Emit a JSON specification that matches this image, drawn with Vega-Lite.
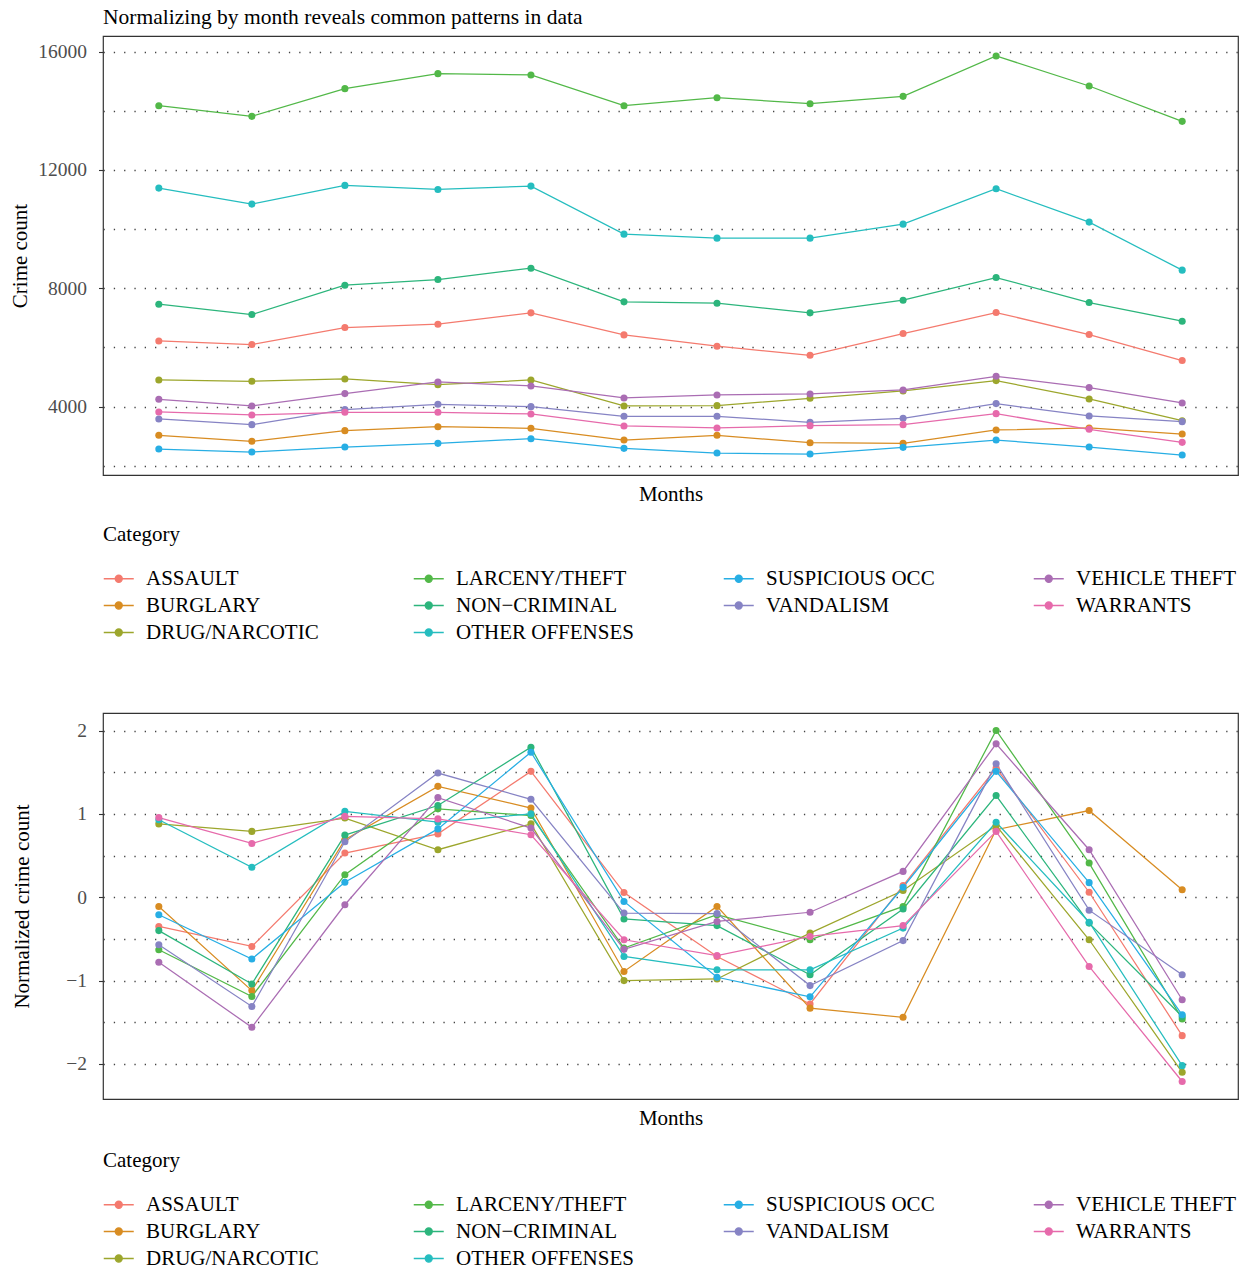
{
  "$schema": "https://vega.github.io/schema/vega-lite/v6.json",
  "background": "white",
  "padding": {"left": 8, "top": 5, "right": 5, "bottom": 5},
  "config": {
    "font": "Liberation Serif",
    "view": {"stroke": "#333333", "strokeWidth": 1.2},
    "title": {"font": "Liberation Serif"},
    "axis": {
      "labelFont": "Liberation Serif",
      "titleFont": "Liberation Serif",
      "labelFontSize": 19.5,
      "labelColor": "#4d4d4d",
      "titleFontSize": 21,
      "titleFontWeight": "normal",
      "titleColor": "#000000",
      "domain": false,
      "tickColor": "#333333",
      "tickWidth": 1.1,
      "gridColor": "#444444",
      "gridDash": [1.3, 9],
      "gridWidth": 1.3
    },
    "legend": {
      "labelFont": "Liberation Serif",
      "titleFont": "Liberation Serif",
      "labelFontSize": 21,
      "titleFontSize": 21,
      "titleFontWeight": "normal",
      "labelColor": "#000000",
      "titleColor": "#000000",
      "labelLimit": 400
    }
  },
  "datasets": {
    "counts": [
      {"month": 1, "category": "ASSAULT", "count": 6220}, {"month": 2, "category": "ASSAULT", "count": 6096}, {"month": 3, "category": "ASSAULT", "count": 6671}, {"month": 4, "category": "ASSAULT", "count": 6784}, {"month": 5, "category": "ASSAULT", "count": 7168}, {"month": 6, "category": "ASSAULT", "count": 6423}, {"month": 7, "category": "ASSAULT", "count": 6040}, {"month": 8, "category": "ASSAULT", "count": 5735}, {"month": 9, "category": "ASSAULT", "count": 6468}, {"month": 10, "category": "ASSAULT", "count": 7179}, {"month": 11, "category": "ASSAULT", "count": 6435}, {"month": 12, "category": "ASSAULT", "count": 5555},
      {"month": 1, "category": "BURGLARY", "count": 3028}, {"month": 2, "category": "BURGLARY", "count": 2825}, {"month": 3, "category": "BURGLARY", "count": 3186}, {"month": 4, "category": "BURGLARY", "count": 3321}, {"month": 5, "category": "BURGLARY", "count": 3265}, {"month": 6, "category": "BURGLARY", "count": 2870}, {"month": 7, "category": "BURGLARY", "count": 3028}, {"month": 8, "category": "BURGLARY", "count": 2780}, {"month": 9, "category": "BURGLARY", "count": 2758}, {"month": 10, "category": "BURGLARY", "count": 3209}, {"month": 11, "category": "BURGLARY", "count": 3276}, {"month": 12, "category": "BURGLARY", "count": 3073},
      {"month": 1, "category": "DRUG/NARCOTIC", "count": 4900}, {"month": 2, "category": "DRUG/NARCOTIC", "count": 4855}, {"month": 3, "category": "DRUG/NARCOTIC", "count": 4934}, {"month": 4, "category": "DRUG/NARCOTIC", "count": 4742}, {"month": 5, "category": "DRUG/NARCOTIC", "count": 4900}, {"month": 6, "category": "DRUG/NARCOTIC", "count": 4021}, {"month": 7, "category": "DRUG/NARCOTIC", "count": 4032}, {"month": 8, "category": "DRUG/NARCOTIC", "count": 4280}, {"month": 9, "category": "DRUG/NARCOTIC", "count": 4528}, {"month": 10, "category": "DRUG/NARCOTIC", "count": 4878}, {"month": 11, "category": "DRUG/NARCOTIC", "count": 4258}, {"month": 12, "category": "DRUG/NARCOTIC", "count": 3524},
      {"month": 1, "category": "LARCENY/THEFT", "count": 14173}, {"month": 2, "category": "LARCENY/THEFT", "count": 13812}, {"month": 3, "category": "LARCENY/THEFT", "count": 14748}, {"month": 4, "category": "LARCENY/THEFT", "count": 15256}, {"month": 5, "category": "LARCENY/THEFT", "count": 15210}, {"month": 6, "category": "LARCENY/THEFT", "count": 14173}, {"month": 7, "category": "LARCENY/THEFT", "count": 14443}, {"month": 8, "category": "LARCENY/THEFT", "count": 14240}, {"month": 9, "category": "LARCENY/THEFT", "count": 14488}, {"month": 10, "category": "LARCENY/THEFT", "count": 15853}, {"month": 11, "category": "LARCENY/THEFT", "count": 14838}, {"month": 12, "category": "LARCENY/THEFT", "count": 13642},
      {"month": 1, "category": "NON-CRIMINAL", "count": 7461}, {"month": 2, "category": "NON-CRIMINAL", "count": 7111}, {"month": 3, "category": "NON-CRIMINAL", "count": 8104}, {"month": 4, "category": "NON-CRIMINAL", "count": 8296}, {"month": 5, "category": "NON-CRIMINAL", "count": 8679}, {"month": 6, "category": "NON-CRIMINAL", "count": 7540}, {"month": 7, "category": "NON-CRIMINAL", "count": 7495}, {"month": 8, "category": "NON-CRIMINAL", "count": 7168}, {"month": 9, "category": "NON-CRIMINAL", "count": 7596}, {"month": 10, "category": "NON-CRIMINAL", "count": 8363}, {"month": 11, "category": "NON-CRIMINAL", "count": 7517}, {"month": 12, "category": "NON-CRIMINAL", "count": 6886},
      {"month": 1, "category": "OTHER OFFENSES", "count": 11386}, {"month": 2, "category": "OTHER OFFENSES", "count": 10845}, {"month": 3, "category": "OTHER OFFENSES", "count": 11477}, {"month": 4, "category": "OTHER OFFENSES", "count": 11341}, {"month": 5, "category": "OTHER OFFENSES", "count": 11454}, {"month": 6, "category": "OTHER OFFENSES", "count": 9830}, {"month": 7, "category": "OTHER OFFENSES", "count": 9694}, {"month": 8, "category": "OTHER OFFENSES", "count": 9694}, {"month": 9, "category": "OTHER OFFENSES", "count": 10168}, {"month": 10, "category": "OTHER OFFENSES", "count": 11364}, {"month": 11, "category": "OTHER OFFENSES", "count": 10236}, {"month": 12, "category": "OTHER OFFENSES", "count": 8612},
      {"month": 1, "category": "SUSPICIOUS OCC", "count": 2565}, {"month": 2, "category": "SUSPICIOUS OCC", "count": 2464}, {"month": 3, "category": "SUSPICIOUS OCC", "count": 2633}, {"month": 4, "category": "SUSPICIOUS OCC", "count": 2757}, {"month": 5, "category": "SUSPICIOUS OCC", "count": 2915}, {"month": 6, "category": "SUSPICIOUS OCC", "count": 2588}, {"month": 7, "category": "SUSPICIOUS OCC", "count": 2430}, {"month": 8, "category": "SUSPICIOUS OCC", "count": 2396}, {"month": 9, "category": "SUSPICIOUS OCC", "count": 2622}, {"month": 10, "category": "SUSPICIOUS OCC", "count": 2870}, {"month": 11, "category": "SUSPICIOUS OCC", "count": 2633}, {"month": 12, "category": "SUSPICIOUS OCC", "count": 2362},
      {"month": 1, "category": "VANDALISM", "count": 3581}, {"month": 2, "category": "VANDALISM", "count": 3389}, {"month": 3, "category": "VANDALISM", "count": 3897}, {"month": 4, "category": "VANDALISM", "count": 4077}, {"month": 5, "category": "VANDALISM", "count": 3998}, {"month": 6, "category": "VANDALISM", "count": 3671}, {"month": 7, "category": "VANDALISM", "count": 3671}, {"month": 8, "category": "VANDALISM", "count": 3468}, {"month": 9, "category": "VANDALISM", "count": 3603}, {"month": 10, "category": "VANDALISM", "count": 4100}, {"month": 11, "category": "VANDALISM", "count": 3682}, {"month": 12, "category": "VANDALISM", "count": 3491},
      {"month": 1, "category": "VEHICLE THEFT", "count": 4246}, {"month": 2, "category": "VEHICLE THEFT", "count": 4021}, {"month": 3, "category": "VEHICLE THEFT", "count": 4438}, {"month": 4, "category": "VEHICLE THEFT", "count": 4833}, {"month": 5, "category": "VEHICLE THEFT", "count": 4698}, {"month": 6, "category": "VEHICLE THEFT", "count": 4291}, {"month": 7, "category": "VEHICLE THEFT", "count": 4393}, {"month": 8, "category": "VEHICLE THEFT", "count": 4427}, {"month": 9, "category": "VEHICLE THEFT", "count": 4562}, {"month": 10, "category": "VEHICLE THEFT", "count": 5025}, {"month": 11, "category": "VEHICLE THEFT", "count": 4641}, {"month": 12, "category": "VEHICLE THEFT", "count": 4122},
      {"month": 1, "category": "WARRANTS", "count": 3818}, {"month": 2, "category": "WARRANTS", "count": 3716}, {"month": 3, "category": "WARRANTS", "count": 3806}, {"month": 4, "category": "WARRANTS", "count": 3806}, {"month": 5, "category": "WARRANTS", "count": 3750}, {"month": 6, "category": "WARRANTS", "count": 3344}, {"month": 7, "category": "WARRANTS", "count": 3276}, {"month": 8, "category": "WARRANTS", "count": 3355}, {"month": 9, "category": "WARRANTS", "count": 3389}, {"month": 10, "category": "WARRANTS", "count": 3761}, {"month": 11, "category": "WARRANTS", "count": 3231}, {"month": 12, "category": "WARRANTS", "count": 2791}
    ],
    "normalized": [
      {"month": 1, "category": "ASSAULT", "z": -0.35}, {"month": 2, "category": "ASSAULT", "z": -0.59}, {"month": 3, "category": "ASSAULT", "z": 0.53}, {"month": 4, "category": "ASSAULT", "z": 0.76}, {"month": 5, "category": "ASSAULT", "z": 1.51}, {"month": 6, "category": "ASSAULT", "z": 0.056}, {"month": 7, "category": "ASSAULT", "z": -0.71}, {"month": 8, "category": "ASSAULT", "z": -1.28}, {"month": 9, "category": "ASSAULT", "z": 0.14}, {"month": 10, "category": "ASSAULT", "z": 1.55}, {"month": 11, "category": "ASSAULT", "z": 0.06}, {"month": 12, "category": "ASSAULT", "z": -1.66},
      {"month": 1, "category": "BURGLARY", "z": -0.11}, {"month": 2, "category": "BURGLARY", "z": -1.12}, {"month": 3, "category": "BURGLARY", "z": 0.69}, {"month": 4, "category": "BURGLARY", "z": 1.33}, {"month": 5, "category": "BURGLARY", "z": 1.07}, {"month": 6, "category": "BURGLARY", "z": -0.89}, {"month": 7, "category": "BURGLARY", "z": -0.11}, {"month": 8, "category": "BURGLARY", "z": -1.33}, {"month": 9, "category": "BURGLARY", "z": -1.44}, {"month": 10, "category": "BURGLARY", "z": 0.81}, {"month": 11, "category": "BURGLARY", "z": 1.04}, {"month": 12, "category": "BURGLARY", "z": 0.09},
      {"month": 1, "category": "DRUG/NARCOTIC", "z": 0.88}, {"month": 2, "category": "DRUG/NARCOTIC", "z": 0.79}, {"month": 3, "category": "DRUG/NARCOTIC", "z": 0.95}, {"month": 4, "category": "DRUG/NARCOTIC", "z": 0.57}, {"month": 5, "category": "DRUG/NARCOTIC", "z": 0.88}, {"month": 6, "category": "DRUG/NARCOTIC", "z": -1.0}, {"month": 7, "category": "DRUG/NARCOTIC", "z": -0.98}, {"month": 8, "category": "DRUG/NARCOTIC", "z": -0.43}, {"month": 9, "category": "DRUG/NARCOTIC", "z": 0.08}, {"month": 10, "category": "DRUG/NARCOTIC", "z": 0.86}, {"month": 11, "category": "DRUG/NARCOTIC", "z": -0.51}, {"month": 12, "category": "DRUG/NARCOTIC", "z": -2.1},
      {"month": 1, "category": "LARCENY/THEFT", "z": -0.63}, {"month": 2, "category": "LARCENY/THEFT", "z": -1.19}, {"month": 3, "category": "LARCENY/THEFT", "z": 0.27}, {"month": 4, "category": "LARCENY/THEFT", "z": 1.06}, {"month": 5, "category": "LARCENY/THEFT", "z": 0.98}, {"month": 6, "category": "LARCENY/THEFT", "z": -0.61}, {"month": 7, "category": "LARCENY/THEFT", "z": -0.21}, {"month": 8, "category": "LARCENY/THEFT", "z": -0.51}, {"month": 9, "category": "LARCENY/THEFT", "z": -0.11}, {"month": 10, "category": "LARCENY/THEFT", "z": 2.0}, {"month": 11, "category": "LARCENY/THEFT", "z": 0.41}, {"month": 12, "category": "LARCENY/THEFT", "z": -1.46},
      {"month": 1, "category": "NON-CRIMINAL", "z": -0.4}, {"month": 2, "category": "NON-CRIMINAL", "z": -1.04}, {"month": 3, "category": "NON-CRIMINAL", "z": 0.745}, {"month": 4, "category": "NON-CRIMINAL", "z": 1.1}, {"month": 5, "category": "NON-CRIMINAL", "z": 1.8}, {"month": 6, "category": "NON-CRIMINAL", "z": -0.26}, {"month": 7, "category": "NON-CRIMINAL", "z": -0.34}, {"month": 8, "category": "NON-CRIMINAL", "z": -0.93}, {"month": 9, "category": "NON-CRIMINAL", "z": -0.14}, {"month": 10, "category": "NON-CRIMINAL", "z": 1.22}, {"month": 11, "category": "NON-CRIMINAL", "z": -0.31}, {"month": 12, "category": "NON-CRIMINAL", "z": -1.43},
      {"month": 1, "category": "OTHER OFFENSES", "z": 0.93}, {"month": 2, "category": "OTHER OFFENSES", "z": 0.36}, {"month": 3, "category": "OTHER OFFENSES", "z": 1.03}, {"month": 4, "category": "OTHER OFFENSES", "z": 0.9}, {"month": 5, "category": "OTHER OFFENSES", "z": 1.0}, {"month": 6, "category": "OTHER OFFENSES", "z": -0.71}, {"month": 7, "category": "OTHER OFFENSES", "z": -0.87}, {"month": 8, "category": "OTHER OFFENSES", "z": -0.87}, {"month": 9, "category": "OTHER OFFENSES", "z": -0.37}, {"month": 10, "category": "OTHER OFFENSES", "z": 0.9}, {"month": 11, "category": "OTHER OFFENSES", "z": -0.3}, {"month": 12, "category": "OTHER OFFENSES", "z": -2.02},
      {"month": 1, "category": "SUSPICIOUS OCC", "z": -0.21}, {"month": 2, "category": "SUSPICIOUS OCC", "z": -0.74}, {"month": 3, "category": "SUSPICIOUS OCC", "z": 0.18}, {"month": 4, "category": "SUSPICIOUS OCC", "z": 0.82}, {"month": 5, "category": "SUSPICIOUS OCC", "z": 1.74}, {"month": 6, "category": "SUSPICIOUS OCC", "z": -0.05}, {"month": 7, "category": "SUSPICIOUS OCC", "z": -0.96}, {"month": 8, "category": "SUSPICIOUS OCC", "z": -1.195}, {"month": 9, "category": "SUSPICIOUS OCC", "z": 0.12}, {"month": 10, "category": "SUSPICIOUS OCC", "z": 1.51}, {"month": 11, "category": "SUSPICIOUS OCC", "z": 0.175}, {"month": 12, "category": "SUSPICIOUS OCC", "z": -1.41},
      {"month": 1, "category": "VANDALISM", "z": -0.57}, {"month": 2, "category": "VANDALISM", "z": -1.31}, {"month": 3, "category": "VANDALISM", "z": 0.665}, {"month": 4, "category": "VANDALISM", "z": 1.49}, {"month": 5, "category": "VANDALISM", "z": 1.175}, {"month": 6, "category": "VANDALISM", "z": -0.19}, {"month": 7, "category": "VANDALISM", "z": -0.195}, {"month": 8, "category": "VANDALISM", "z": -1.06}, {"month": 9, "category": "VANDALISM", "z": -0.52}, {"month": 10, "category": "VANDALISM", "z": 1.6}, {"month": 11, "category": "VANDALISM", "z": -0.155}, {"month": 12, "category": "VANDALISM", "z": -0.93},
      {"month": 1, "category": "VEHICLE THEFT", "z": -0.78}, {"month": 2, "category": "VEHICLE THEFT", "z": -1.56}, {"month": 3, "category": "VEHICLE THEFT", "z": -0.09}, {"month": 4, "category": "VEHICLE THEFT", "z": 1.195}, {"month": 5, "category": "VEHICLE THEFT", "z": 0.83}, {"month": 6, "category": "VEHICLE THEFT", "z": -0.625}, {"month": 7, "category": "VEHICLE THEFT", "z": -0.29}, {"month": 8, "category": "VEHICLE THEFT", "z": -0.18}, {"month": 9, "category": "VEHICLE THEFT", "z": 0.31}, {"month": 10, "category": "VEHICLE THEFT", "z": 1.84}, {"month": 11, "category": "VEHICLE THEFT", "z": 0.57}, {"month": 12, "category": "VEHICLE THEFT", "z": -1.23},
      {"month": 1, "category": "WARRANTS", "z": 0.956}, {"month": 2, "category": "WARRANTS", "z": 0.645}, {"month": 3, "category": "WARRANTS", "z": 0.97}, {"month": 4, "category": "WARRANTS", "z": 0.94}, {"month": 5, "category": "WARRANTS", "z": 0.75}, {"month": 6, "category": "WARRANTS", "z": -0.51}, {"month": 7, "category": "WARRANTS", "z": -0.7}, {"month": 8, "category": "WARRANTS", "z": -0.47}, {"month": 9, "category": "WARRANTS", "z": -0.34}, {"month": 10, "category": "WARRANTS", "z": 0.79}, {"month": 11, "category": "WARRANTS", "z": -0.83}, {"month": 12, "category": "WARRANTS", "z": -2.21}
    ]
  },
  "spacing": 68,
  "resolve": {"scale": {"color": "shared", "x": "independent", "y": "independent"}, "legend": {"color": "independent"}},
  "vconcat": [
    {
      "title": {"text": "Normalizing by month reveals common patterns in data", "anchor": "start", "frame": "group", "fontSize": 21.5, "fontWeight": "normal", "font": "Liberation Serif", "color": "#000000", "offset": 8},
      "width": 1135,
      "height": 439,
      "data": {"name": "counts"},
      "encoding": {
        "x": {"field": "month", "type": "quantitative", "scale": {"domain": [0.4, 12.6], "nice": false, "zero": false}, "axis": {"title": "Months", "labels": false, "ticks": false, "grid": false, "titlePadding": 8}},
        "y": {"field": "count", "type": "quantitative", "scale": {"domain": [1687, 16528], "nice": false, "zero": false},
          "axis": {"title": "Crime count", "values": [2000, 4000, 6000, 8000, 10000, 12000, 14000, 16000], "format": "d", "labelExpr": "datum.value % 4000 === 0 ? datum.label : ''", "tickOpacity": {"condition": {"test": "datum.value % 4000 === 0", "value": 1}, "value": 0}, "tickSize": 4.5, "labelPadding": 12, "titlePadding": 7.5}},
        "color": {"field": "category", "type": "nominal",
          "scale": {"domain": ["ASSAULT", "LARCENY/THEFT", "SUSPICIOUS OCC", "VEHICLE THEFT", "BURGLARY", "NON-CRIMINAL", "VANDALISM", "WARRANTS", "DRUG/NARCOTIC", "OTHER OFFENSES"],
                    "range": ["#F47A6E", "#52B848", "#27AEE4", "#AA6DB3", "#D88C22", "#2CB57C", "#8683C4", "#E66AAB", "#9CA62C", "#25BDBF"]},
          "legend": {"title": "Category", "orient": "bottom", "direction": "horizontal", "columns": 4, "gridAlign": "all", "columnPadding": 87, "rowPadding": 5, "symbolType": "M-1.3,0H2.7M1.17,0A0.47,0.47,0,1,1,0.23,0A0.47,0.47,0,1,1,1.17,0Z", "symbolSize": 225, "symbolStrokeWidth": 1.3, "labelOffset": 22, "titlePadding": 23, "offset": 20, "labelExpr": "replace(datum.label, '-', '−')",
            "encode": {"symbols": {"update": {"fill": {"scale": "color", "field": "value"}, "stroke": {"scale": "color", "field": "value"}}}}}
        }
      },
      "layer": [
        {"mark": {"type": "line", "strokeWidth": 1.25}},
        {"mark": {"type": "point", "filled": true, "size": 50, "opacity": 1}}
      ]
    },
    {
      "width": 1135,
      "height": 386,
      "data": {"name": "normalized"},
      "encoding": {
        "x": {"field": "month", "type": "quantitative", "scale": {"domain": [0.4, 12.6], "nice": false, "zero": false}, "axis": {"title": "Months", "labels": false, "ticks": false, "grid": false, "titlePadding": 8}},
        "y": {"field": "z", "type": "quantitative", "scale": {"domain": [-2.42, 2.21], "nice": false, "zero": false},
          "axis": {"title": "Normalized crime count", "values": [-2, -1.5, -1, -0.5, 0, 0.5, 1, 1.5, 2], "labelExpr": "datum.value % 1 !== 0 ? '' : (datum.value < 0 ? '−' + abs(datum.value) : '' + datum.value)", "tickOpacity": {"condition": {"test": "datum.value % 1 === 0", "value": 1}, "value": 0}, "tickSize": 4.5, "labelPadding": 12, "titlePadding": 33}},
        "color": {"field": "category", "type": "nominal",
          "legend": {"title": "Category", "orient": "bottom", "direction": "horizontal", "columns": 4, "gridAlign": "all", "columnPadding": 87, "rowPadding": 5, "symbolType": "M-1.3,0H2.7M1.17,0A0.47,0.47,0,1,1,0.23,0A0.47,0.47,0,1,1,1.17,0Z", "symbolSize": 225, "symbolStrokeWidth": 1.3, "labelOffset": 22, "titlePadding": 23, "offset": 22, "labelExpr": "replace(datum.label, '-', '−')",
            "encode": {"symbols": {"update": {"fill": {"scale": "color", "field": "value"}, "stroke": {"scale": "color", "field": "value"}}}}}
        }
      },
      "layer": [
        {"mark": {"type": "line", "strokeWidth": 1.25}},
        {"mark": {"type": "point", "filled": true, "size": 50, "opacity": 1}}
      ]
    }
  ]
}
